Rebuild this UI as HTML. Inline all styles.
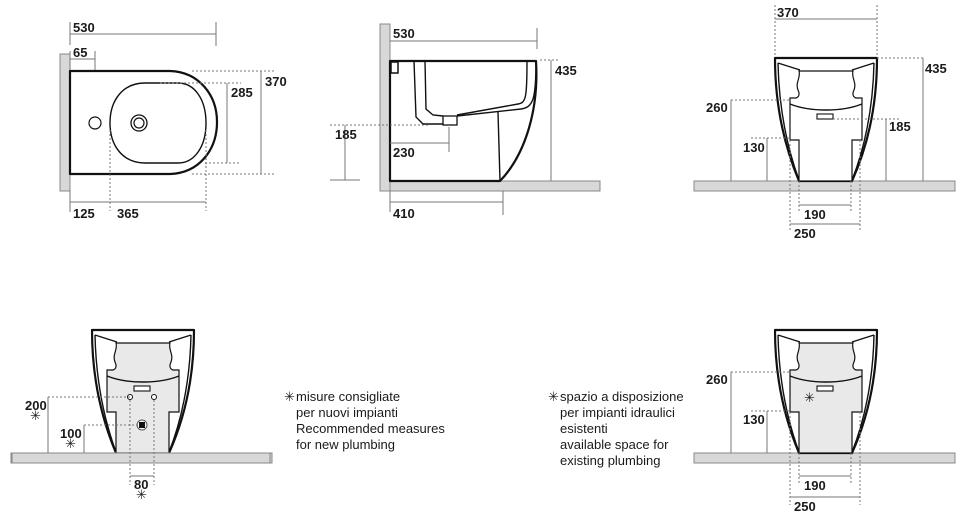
<!DOCTYPE html>
<html><head><meta charset="utf-8"><style>
html,body{margin:0;padding:0;background:#fff;width:966px;height:519px;overflow:hidden}
svg{display:block}
text{font-family:"Liberation Sans",sans-serif;font-size:13px;fill:#1a1a1a;font-weight:bold}
text.l{font-weight:normal;font-size:13px}
.d{stroke:#777;stroke-width:1;fill:none}
.ds{stroke:#777;stroke-width:1;fill:none;stroke-dasharray:2,2}
.o{stroke:#111;stroke-width:2.2;fill:#fff;stroke-linejoin:round}
.t{stroke:#111;stroke-width:1.4;fill:none}
.w{fill:#d8d8d8;stroke:#888;stroke-width:1}
</style></head><body>
<svg width="966" height="519" viewBox="0 0 966 519">
<defs>
<g id="front">
 <rect class="w" x="694" y="181" width="261" height="10"/>
 <path class="o" d="M775,58 H877 C877,110 866,150 852,181 H799 C786,150 775,110 775,58 Z"/>
 <path class="t" d="M778,63 C779,110 788,150 799,180 M874,63 C873,110 864,150 852,180"/>
 <path class="t" d="M778,63 L800,70 M874,63 L852,70"/>
</g>
<g id="inner">
 <path d="M799,71 H853 C851,78 857,82 854,90 C852,94 853,97 856,98 H862 V140 H852 V181 H799 V140 H790 V98 H796 C799,97 800,94 798,90 C795,82 801,78 799,71 Z" stroke="#111" stroke-width="1.2"/>
 <path d="M790,104 C810,112 842,112 862,104" class="t" stroke-width="1.1"/>
 <rect x="817" y="114" width="16" height="5" fill="#fff" stroke="#111" stroke-width="1.1"/>
</g>
</defs>

<!-- TOP LEFT plan -->
<rect class="w" x="60" y="54" width="10" height="137"/>
<path class="o" d="M70,71 H170 C199,72 217,95 217,122 C217,150 199,173 170,174 H70 Z"/>
<path class="t" d="M145,83 H178 C195,83 206,100 206,123 C206,146 195,163 178,163 H145 C123,163 110,146 110,123 C110,100 123,83 145,83 Z"/>
<circle cx="139" cy="123" r="8" fill="none" stroke="#111" stroke-width="1.3"/>
<circle cx="139" cy="123" r="5" fill="none" stroke="#111" stroke-width="1.2"/>
<circle cx="95" cy="123" r="6" fill="none" stroke="#111" stroke-width="1.2"/>
<path class="d" d="M70,22 V45 M70,34 H216 M216,22 V46 M70,51 V70 M70,59 H95 M95,51 V70"/>
<text x="73" y="32">530</text><text x="73" y="57">65</text>
<path class="d" d="M261,71 V174 M227,83 V163 M70,202 H206 M70,190 V212"/>
<path class="ds" d="M192,71 H275 M192,174 H275 M160,83 H241 M205,163 H241 M110,130 V211 M206,130 V211"/>
<text x="265" y="86">370</text><text x="231" y="97">285</text>
<text x="73" y="218">125</text><text x="117" y="218">365</text>

<!-- TOP MIDDLE side -->
<rect class="w" x="380" y="24" width="10" height="167"/>
<rect class="w" x="390" y="181" width="210" height="10"/>
<path class="o" d="M390,61 H536 C539,110 525,155 500,181 H390 Z"/>
<rect x="391" y="62" width="7" height="11" fill="none" stroke="#111" stroke-width="1.5"/>
<path class="t" stroke-width="2" d="M414,61 L416,117 L423,124 L443,124 M457,116 L521,109 C533,107 536,100 536,61"/>
<path class="t" d="M425,61 L426,109 L433,115 L443,116 M457,115 L518,104 C526,103 527,97 527,61"/>
<rect x="443" y="116" width="14" height="9" fill="#fff" stroke="#111" stroke-width="1.3"/>
<path class="t" stroke-width="1.8" d="M498,112 L500,181"/>
<path class="d" d="M390,41 H537 M537,28 V49 M551,60 V181 M345,125 V180 M390,143 H449 M449,127 V152 M390,202 H503 M503,191 V215 M390,191 V212 M330,180 H360"/>
<path class="ds" d="M540,60 H560 M330,125 H430"/>
<text x="393" y="38">530</text><text x="555" y="75">435</text><text x="335" y="139">185</text>
<text x="393" y="157">230</text><text x="393" y="218">410</text>

<!-- TOP RIGHT front -->
<use href="#front"/>
<g fill="#fff"><use href="#inner"/></g>
<path class="d" d="M775,19 H877 M923,58 V181 M731,100 V181 M767,138 V181 M886,119 V181 M799,205 H851 M790,224 H860"/>
<path class="ds" d="M775,5 V55 M877,5 V55 M877,58 H925 M731,100 H790 M751,138 H790 M833,119 H900 M790,140 V232 M860,140 V232 M799,181 V212 M851,181 V212"/>
<text x="777" y="17">370</text><text x="925" y="73">435</text><text x="706" y="112">260</text>
<text x="743" y="152">130</text><text x="889" y="131">185</text><text x="804" y="219">190</text><text x="794" y="238">250</text>

<!-- BOTTOM LEFT -->
<g transform="translate(-683,272)">
 <use href="#front"/>
 <g fill="#e9e9e9"><use href="#inner"/></g>
</g>
<rect class="w" x="12" y="453" width="258" height="10"/>
<circle cx="130" cy="397" r="2.5" fill="#fff" stroke="#111"/>
<circle cx="154" cy="397" r="2.5" fill="#fff" stroke="#111"/>
<circle cx="142" cy="425" r="5" fill="#fff" stroke="#555"/>
<rect x="139" y="422" width="6" height="6" fill="#111"/>
<path class="d" d="M48,397 V453 M84,425 V453 M130,476 H154"/>
<path class="ds" d="M48,397 H130 M84,425 H140 M130,400 V485 M154,400 V485"/>
<text x="25" y="410">200</text><text class="l" x="30" y="420" font-size="12">✳</text>
<text x="60" y="438">100</text><text class="l" x="65" y="448" font-size="12">✳</text>
<text x="134" y="489">80</text><text class="l" x="136" y="499" font-size="12">✳</text>

<text class="l" x="284" y="401" font-size="12">✳</text><text class="l" x="296" y="401">misure consigliate</text>
<text class="l" x="296" y="417">per nuovi impianti</text>
<text class="l" x="296" y="433">Recommended measures</text>
<text class="l" x="296" y="449">for new plumbing</text>

<text class="l" x="548" y="401" font-size="12">✳</text><text class="l" x="560" y="401">spazio a disposizione</text>
<text class="l" x="560" y="417">per impianti idraulici</text>
<text class="l" x="560" y="433">esistenti</text>
<text class="l" x="560" y="449">available space for</text>
<text class="l" x="560" y="465">existing plumbing</text>

<!-- BOTTOM RIGHT -->
<g transform="translate(0,272)">
 <use href="#front"/>
 <g fill="#e9e9e9"><use href="#inner"/></g>
</g>
<text class="l" x="804" y="402" font-size="12">✳</text>
<path class="d" d="M731,372 V453 M767,411 V453 M799,476 H851 M790,497 H860"/>
<path class="ds" d="M731,372 H790 M751,411 H790 M790,412 V505 M860,412 V505 M799,453 V484 M851,453 V484"/>
<text x="706" y="384">260</text><text x="743" y="424">130</text>
<text x="804" y="490">190</text><text x="794" y="511">250</text>
</svg>
</body></html>
